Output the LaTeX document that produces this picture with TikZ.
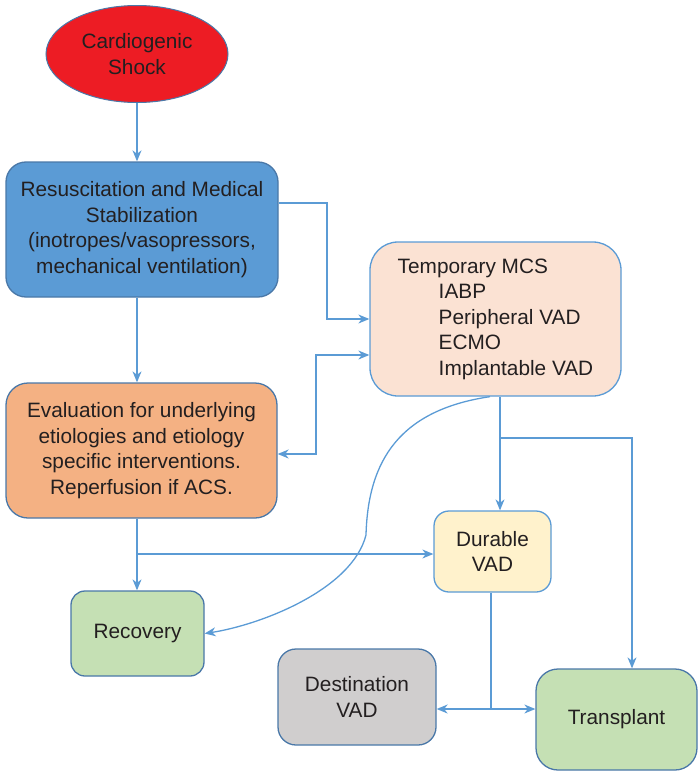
\documentclass[tikz,border=0pt]{standalone}
\usepackage{fontspec}
\setmainfont{Liberation Sans}
\usetikzlibrary{shapes.geometric,arrows.meta}
\definecolor{txt}{HTML}{231F20}
\definecolor{conn}{HTML}{5B9BD5}
\definecolor{bdr}{HTML}{4A78A8}
\definecolor{bdrl}{HTML}{5B9BD5}
\definecolor{redf}{HTML}{ED1C24}
\definecolor{bluef}{HTML}{5B9BD5}
\definecolor{peachf}{HTML}{FBE2D3}
\definecolor{orangef}{HTML}{F4B183}
\definecolor{yellowf}{HTML}{FFF2CC}
\definecolor{greenf}{HTML}{C5E0B4}
\definecolor{grayf}{HTML}{D0CECE}
\tikzset{
  lbl/.style={font=\fontsize{20.8}{25.5}\selectfont, text=txt, align=center, inner sep=0pt},
  box/.style={lbl, draw=bdr, line width=1.3pt, rectangle},
  conline/.style={draw=conn, line width=1.3pt},
  arr/.style={conline, -{Stealth[length=11pt,width=9pt,inset=3.5pt]}},
  darr/.style={conline, {Stealth[length=11pt,width=9pt,inset=3.5pt]}-{Stealth[length=11pt,width=9pt,inset=3.5pt]}}
}
\begin{document}
\begin{tikzpicture}[x=1pt,y=-1pt]
\useasboundingbox (0,0) rectangle (698,771);
\node[lbl, draw=bdr, line width=1pt, fill=redf, ellipse, minimum width=182pt, minimum height=97pt] (shock) at (137,54) {Cardiogenic\\Shock};
\node[box, fill=bluef, rounded corners=20pt, minimum width=272pt, minimum height=135pt] (resus) at (142,229.5)
  {Resuscitation and Medical\\Stabilization\\(inotropes/vasopressors,\\mechanical ventilation)};
\node[box, draw=bdrl, fill=peachf, rounded corners=28pt, minimum width=251pt, minimum height=154pt, align=left] (mcs) at (495.5,319)
  {Temporary MCS\\\hspace*{41pt}IABP\\\hspace*{41pt}Peripheral VAD\\\hspace*{41pt}ECMO\\\hspace*{41pt}Implantable VAD};
\node[box, fill=orangef, rounded corners=22pt, minimum width=271pt, minimum height=135pt] (eval) at (141.5,450.5)
  {Evaluation for underlying\\etiologies and etiology\\specific interventions.\\Reperfusion if ACS.};
\node[box, draw=bdrl, fill=yellowf, rounded corners=15pt, minimum width=117pt, minimum height=81pt] (dur) at (492.5,551.5) {Durable\\VAD};
\node[box, fill=greenf, rounded corners=14pt, minimum width=133pt, minimum height=85pt] (rec) at (137.5,633.5) {Recovery};
\node[box, fill=grayf, rounded corners=18pt, minimum width=158pt, minimum height=96pt] (dest) at (357,697) {Destination\\VAD};
\node[box, fill=greenf, rounded corners=22pt, minimum width=161pt, minimum height=101pt] (trans) at (616.5,719.5) {Transplant};

\coordinate (vx) at (137,0);
\coordinate (j1) at (327,203);
\coordinate (j2) at (327,319);
\coordinate (e1) at (316,454);
\coordinate (e2) at (316,355);
\coordinate (b1) at (137,554);
\coordinate (m1) at (500,438);
\coordinate (m2) at (632,438);
\coordinate (d1) at (491,709);
\coordinate (c1) at (366,535);

\draw[arr] (shock.south -| vx) -- (resus.north -| vx);
\draw[arr] (resus.east |- j1) -- (j1) -- (j2) -- (mcs.west |- j2);
\draw[arr] (resus.south -| vx) -- (eval.north -| vx);
\draw[darr] (eval.east |- e1) -- (e1) -- (e2) -- (mcs.west |- e2);
\draw[arr] (eval.south -| vx) -- (rec.north -| vx);
\draw[arr] (b1) -- (dur.west |- b1);
\draw[arr] (mcs.south -| m1) -- (dur.north -| m1);
\draw[arr] (m1) -- (m2) -- (trans.north -| m2);
\draw[arr] (mcs.south -| 490,0) .. controls (400,410) and (368,460) .. (c1) .. controls (352,590) and (260,625) .. (rec.east);
\draw[darr] (dest.east |- d1) -- (d1) -- (trans.west |- d1);
\draw[conline] (dur.south -| d1) -- (d1);
\end{tikzpicture}
\end{document}
